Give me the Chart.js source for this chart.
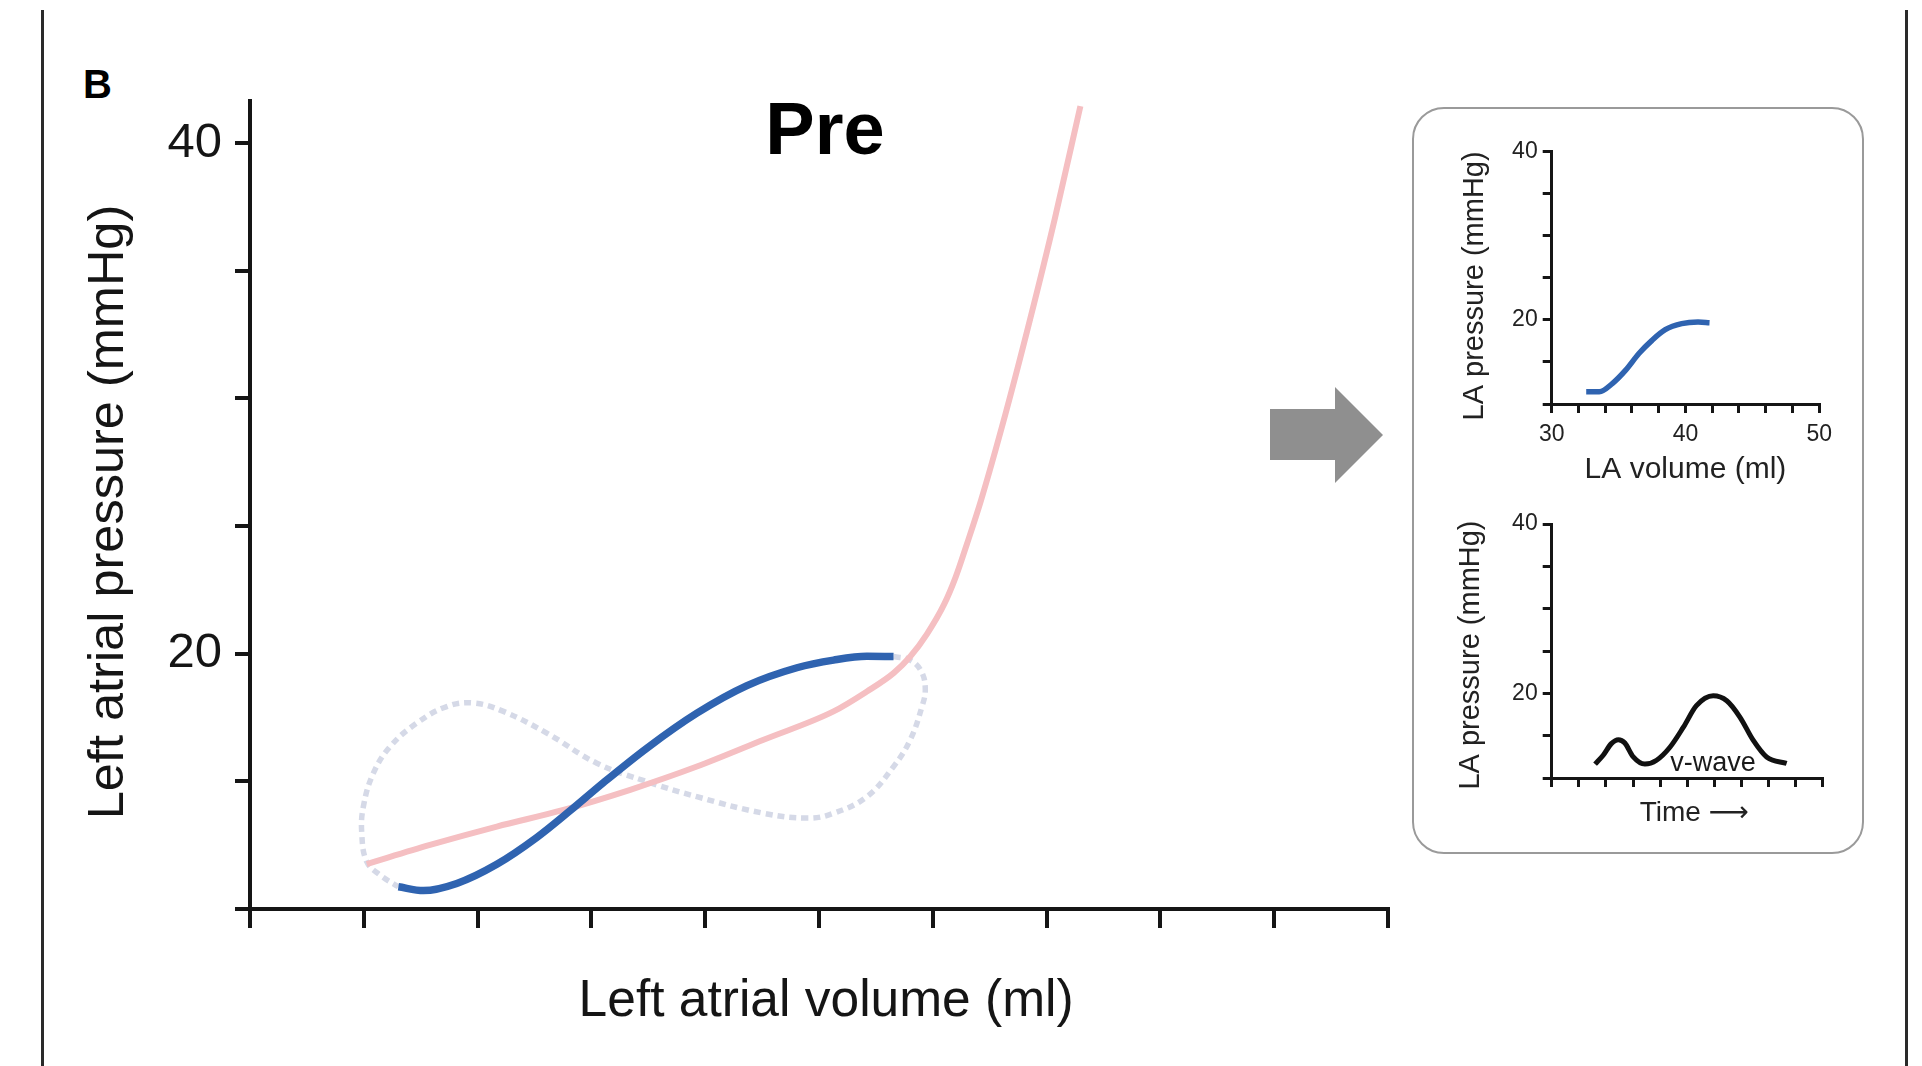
<!DOCTYPE html>
<html>
<head>
<meta charset="utf-8">
<script src="https://cdn.jsdelivr.net/npm/chart.js@4.4.1/dist/chart.umd.min.js"></script>
<style>
  html, body { margin: 0; padding: 0; background: #ffffff; }
  body { width: 1922px; height: 1066px; position: relative; overflow: hidden; font-family: "Liberation Sans", Arial, Helvetica, sans-serif; }
  canvas { position: absolute; }
  .vline { position: absolute; width: 3px; background: #2a2a2a; }
  .lbl { position: absolute; font-weight: bold; color: #000; line-height: 1; white-space: nowrap; }
  #arrow { position: absolute; left: 1270px; top: 387px; width: 113px; height: 96px; background: #8f8f8f;
           clip-path: polygon(0px 22px, 65px 22px, 65px 0px, 113px 48px, 65px 96px, 65px 73px, 0px 73px); }
  #inset { position: absolute; left: 1412px; top: 107px; width: 452px; height: 747px; box-sizing: border-box;
           border: 2.5px solid #9a9a9a; border-radius: 32px; }
</style>
</head>
<body>
<div class="vline" style="left:41px; top:10px; height:1056px;"></div>
<div class="vline" style="left:1905px; top:10px; height:1056px;"></div>
<div class="lbl" style="left:83px; top:64px; font-size:40px;">B</div>
<div class="lbl" style="left:725px; top:92px; width:200px; text-align:center; font-size:74px;">Pre</div>
<div id="arrow"></div>
<div id="inset"></div>
<canvas id="mainChart" width="1410" height="1066" style="left:0px; top:0px;"></canvas>
<canvas id="insetTop" width="400" height="370" style="left:1440px; top:120px;"></canvas>
<canvas id="insetBottom" width="400" height="345" style="left:1440px; top:495px;"></canvas>
<script>
// ---------- Main panel: left atrial pressure vs volume (x in axis tick units) ----------
const mainXTicks = [0, 1, 2, 3, 4, 5, 6, 7, 8, 9, 10];
const mainYTickLabels = [20, 40];

// Pink passive curve
const pinkVolume   = [1.026, 1.582, 2.169, 2.755, 3.341, 3.927, 4.513, 5.128, 5.421, 5.655, 5.802, 5.950, 6.100, 6.200, 6.300, 6.423, 6.639, 6.855, 7.070, 7.297];
const pinkPressure = [11.76, 12.51, 13.23, 13.88, 14.67, 15.58, 16.63, 17.74, 18.52, 19.24, 19.89, 20.78, 21.94, 22.99, 24.30, 26.00, 29.40, 33.10, 37.00, 41.45];

// Blue solid reservoir limb
const blueVolume   = [1.304, 1.524, 1.817, 2.169, 2.520, 2.813, 3.106, 3.487, 3.927, 4.367, 4.806, 5.128, 5.421, 5.655];
const bluePressure = [10.87, 10.72, 11.00, 11.75, 12.80, 13.85, 14.95, 16.30, 17.67, 18.75, 19.45, 19.75, 19.90, 19.89];

// Light dashed remainder of the loop (from blue end back to blue start)
const loopVolume   = [5.655, 5.800, 5.900, 5.934, 5.905, 5.802, 5.655, 5.421, 5.128, 4.900, 4.513, 3.927, 3.487, 3.048, 2.608, 2.227, 1.963, 1.729, 1.465, 1.231, 1.084, 0.996, 0.982, 1.026, 1.143, 1.304];
const loopPressure = [19.89, 19.75, 19.30, 18.60, 17.93, 16.63, 15.58, 14.40, 13.75, 13.56, 13.75, 14.40, 14.99, 15.71, 16.89, 17.74, 18.07, 17.93, 17.28, 16.36, 15.32, 14.01, 12.97, 11.85, 11.33, 10.87];

// ---------- Inset top: LA pressure vs LA volume ----------
const insetVolumeTickLabels = [30, 40, 50];
const insetVolume   = [32.58, 33.56, 34.55, 35.53, 36.52, 37.50, 38.49, 39.72, 40.94, 41.80];
const insetPressure = [11.46, 11.46, 12.45, 14.02, 16.00, 17.57, 18.83, 19.55, 19.74, 19.67];

// ---------- Inset bottom: LA pressure vs time ----------
const waveTime     = [1.60, 1.90, 2.20, 2.46, 2.70, 3.01, 3.44, 3.87, 4.37, 4.86, 5.34, 5.96, 6.46, 6.95, 7.44, 7.93, 8.67];
const wavePressure = [11.64, 12.69, 14.06, 14.53, 14.13, 12.49, 11.64, 12.10, 13.66, 16.00, 18.54, 19.71, 19.12, 17.17, 14.44, 12.49, 11.72];

const FONT = '"Liberation Sans", Arial, Helvetica, sans-serif';
const INK = '#151515';

function pts(xs, ys) { return xs.map((x, i) => ({ x: x, y: ys[i] })); }

const textPlugin = {
  id: 'dataText',
  afterDatasetsDraw(chart, args, opts) {
    if (!opts || !opts.text) return;
    const { ctx, scales } = chart;
    ctx.save();
    ctx.font = opts.font;
    ctx.fillStyle = opts.color;
    ctx.textAlign = 'center';
    ctx.textBaseline = 'middle';
    ctx.fillText(opts.text, scales.x.getPixelForValue(opts.x), scales.y.getPixelForValue(opts.y));
    ctx.restore();
  }
};

function axisCommon(lineW, tickLen) {
  return {
    grid: { drawOnChartArea: false, drawTicks: true, tickLength: tickLen, color: INK, lineWidth: lineW },
    border: { display: true, color: INK, width: lineW }
  };
}

// ---------- Main chart ----------
new Chart(document.getElementById('mainChart'), {
  type: 'scatter',
  data: {
    datasets: [
      { data: pts(blueVolume, bluePressure), showLine: true, borderColor: '#2f63b0', borderWidth: 7.5, cubicInterpolationMode: 'monotone', pointRadius: 0 },
      { data: pts(pinkVolume, pinkPressure), showLine: true, borderColor: '#f5bfc2', borderWidth: 6, cubicInterpolationMode: 'monotone', pointRadius: 0 },
      { data: pts(loopVolume, loopPressure), showLine: true, borderColor: '#d5d9e7', borderWidth: 5.5, borderDash: [7, 5], tension: 0.4, pointRadius: 0 }
    ]
  },
  options: {
    responsive: false, animation: false, events: [],
    layout: { padding: { left: 0, top: 101, right: 22, bottom: 0 } },
    plugins: { legend: { display: false }, tooltip: { enabled: false }, title: { display: false } },
    scales: {
      x: Object.assign(axisCommon(4, 19), {
        type: 'linear', min: mainXTicks[0], max: mainXTicks[mainXTicks.length - 1],
        ticks: { stepSize: 1, autoSkip: false, callback: () => '' },
        title: { display: true, text: ' Left atrial volume (ml)', color: INK, font: { family: FONT, size: 51.5 }, padding: { top: 0, bottom: 33 } },
        afterFit: s => { s.height = 157; }
      }),
      y: Object.assign(axisCommon(4, 15), {
        type: 'linear', min: 10, max: 41.65,
        ticks: { stepSize: 5, includeBounds: false, autoSkip: false, padding: 13, color: INK, font: { family: FONT, size: 49 },
                 callback: v => mainYTickLabels.includes(v) ? String(v) : '' },
        title: { display: true, text: 'Left atrial pressure (mmHg) ', color: INK, font: { family: FONT, size: 50.5 }, padding: { top: 79, bottom: 0 } },
        afterFit: s => { s.width = 250; }
      })
    }
  }
});

// ---------- Inset top ----------
new Chart(document.getElementById('insetTop'), {
  type: 'scatter',
  data: { datasets: [
    { data: pts(insetVolume, insetPressure), showLine: true, borderColor: '#2f63b0', borderWidth: 5.5, cubicInterpolationMode: 'monotone', pointRadius: 0 }
  ] },
  options: {
    responsive: false, animation: false, events: [],
    layout: { padding: { left: 0, top: 31.7, right: 17.3, bottom: 0 } },
    plugins: { legend: { display: false }, tooltip: { enabled: false } },
    scales: {
      x: Object.assign(axisCommon(3, 9), {
        type: 'linear', min: 30, max: 50,
        ticks: { stepSize: 2, autoSkip: false, maxRotation: 0, padding: 8, color: '#222', font: { family: FONT, size: 23 },
                 callback: v => insetVolumeTickLabels.includes(v) ? String(v) : '' },
        title: { display: true, text: 'LA volume (ml)', color: '#222', font: { family: FONT, size: 30 }, padding: { top: 0, bottom: 2 } },
        afterFit: s => { s.height = 86; }
      }),
      y: Object.assign(axisCommon(3, 9), {
        type: 'linear', min: 10, max: 40,
        ticks: { stepSize: 5, autoSkip: false, padding: 5, color: '#222', font: { family: FONT, size: 23 },
                 callback: v => mainYTickLabels.includes(v) ? String(v) : '' },
        title: { display: true, text: 'LA pressure (mmHg)  ', color: '#222', font: { family: FONT, size: 29 }, padding: { top: 18, bottom: 0 } },
        afterFit: s => { s.width = 111.7; }
      })
    }
  }
});

// ---------- Inset bottom ----------
new Chart(document.getElementById('insetBottom'), {
  type: 'scatter',
  data: { datasets: [
    { data: pts(waveTime, wavePressure), showLine: true, borderColor: '#111111', borderWidth: 5, cubicInterpolationMode: 'monotone', pointRadius: 0 }
  ] },
  options: {
    responsive: false, animation: false, events: [],
    layout: { padding: { left: 0, top: 29, right: 17.3, bottom: 0 } },
    plugins: { legend: { display: false }, tooltip: { enabled: false },
               dataText: { text: 'v-wave', x: 5.95, y: 11.75, font: '27px ' + FONT, color: '#1a1a1a' } },
    scales: {
      x: Object.assign(axisCommon(3, 9), {
        type: 'linear', min: 0, max: 10,
        ticks: { stepSize: 1, autoSkip: false, callback: () => '' },
        title: { display: true, text: '\u2002Time \u27F6', color: '#222', font: { family: FONT + ', "DejaVu Sans"', size: 28 }, padding: { top: 0, bottom: 10 } },
        afterFit: s => { s.height = 62; }
      }),
      y: Object.assign(axisCommon(3, 9), {
        type: 'linear', min: 10, max: 40,
        ticks: { stepSize: 5, autoSkip: false, padding: 5, color: '#222', font: { family: FONT, size: 23 },
                 callback: v => mainYTickLabels.includes(v) ? String(v) : '' },
        title: { display: true, text: 'LA pressure (mmHg) ', color: '#222', font: { family: FONT, size: 29 }, padding: { top: 14, bottom: 0 } },
        afterFit: s => { s.width = 111.7; }
      })
    }
  },
  plugins: [textPlugin]
});
</script>
</body>
</html>
